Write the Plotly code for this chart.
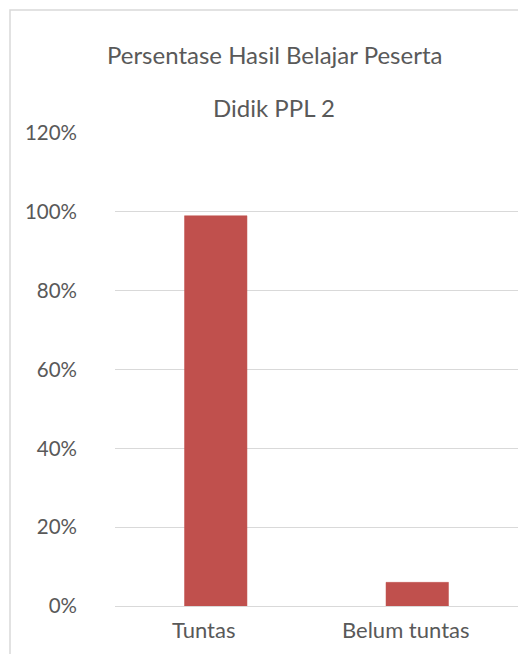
import plotly.graph_objects as go

categories = ["Tuntas", "Belum tuntas"]
values = [0.99, 0.06]
y_ticks = [0, 0.2, 0.4, 0.6, 0.8, 1.0, 1.2]
y_tick_labels = ["0%", "20%", "40%", "60%", "80%", "100%", "120%"]
title_lines = ["Persentase Hasil Belajar Peserta", "Didik PPL 2"]

# the page body adds an 8px offset; figure coords are shifted accordingly
OFF = 8
W, H = 526, 654
L, R = 115 - OFF, 518 - OFF
T, B = 133 - OFF, 606 - OFF

FONT = "Lato"
GRAY = "#595959"

fig = go.Figure(go.Bar(
    x=categories, y=values, marker_color="#c0504d",
    marker_line_color="#c0504d", marker_line_width=0.5, width=0.31,
))

def px_x(px):
    return (px - OFF - L) / (R - L)

def px_y(py):
    return (B - (py - OFF)) / (B - T)

annotations = [
    dict(text=title_lines[0], xref="paper", yref="paper", x=px_x(274), y=px_y(55),
         showarrow=False, xanchor="center", yanchor="middle",
         font=dict(size=24, color=GRAY, family=FONT)),
    dict(text=title_lines[1], xref="paper", yref="paper", x=px_x(274), y=px_y(107),
         showarrow=False, xanchor="center", yanchor="middle",
         font=dict(size=24, color=GRAY, family=FONT)),
]
for c in categories:
    annotations.append(dict(text=c, xref="x", yref="paper", x=c, y=px_y(629),
                            xshift=-12, showarrow=False, xanchor="center",
                            yanchor="middle",
                            font=dict(size=22, color=GRAY, family=FONT)))

fig.update_layout(
    width=W, height=H,
    margin=dict(l=L, r=W - R, t=T, b=H - B, pad=0),
    paper_bgcolor="white", plot_bgcolor="white",
    showlegend=False,
    font=dict(family=FONT, color=GRAY),
    xaxis=dict(showgrid=False, showline=True, linecolor="#d9d9d9", linewidth=1,
               ticks="", showticklabels=False),
    yaxis=dict(range=[0, 1.2], tickvals=y_ticks, ticktext=y_tick_labels,
               showgrid=True, gridcolor="#d9d9d9", gridwidth=1,
               zeroline=False, showline=False, ticks="",
               tickfont=dict(size=20.5, color=GRAY, family=FONT),
               ticklabelstandoff=37),
    shapes=[dict(type="rect", xref="paper", yref="paper",
                 x0=px_x(10), x1=px_x(700), y0=px_y(800), y1=px_y(10),
                 line=dict(color="#d9d9d9", width=1.5), fillcolor="rgba(0,0,0,0)",
                 layer="below")],
    annotations=annotations,
)

fig.write_html("out.html")
